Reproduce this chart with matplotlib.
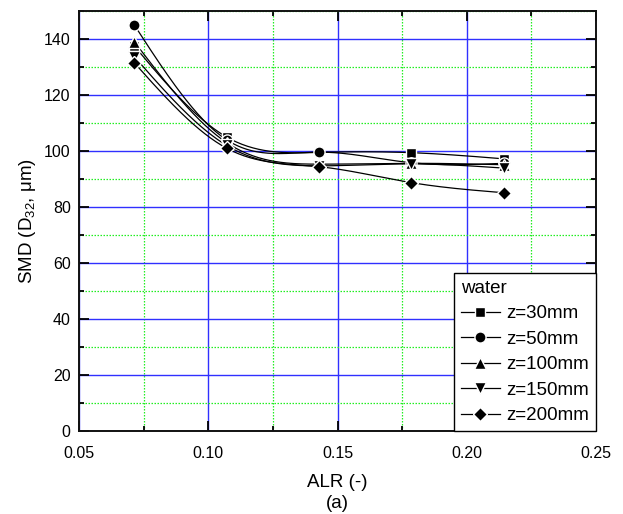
import numpy as np
import matplotlib
matplotlib.use("Agg")
import matplotlib.pyplot as plt
from matplotlib.lines import Line2D
from matplotlib.ticker import MultipleLocator

plt.rcParams['font.family'] = ['Liberation Sans', 'DejaVu Sans']
plt.rcParams['mathtext.fontset'] = 'custom'
plt.rcParams['mathtext.rm'] = 'Liberation Sans'
plt.rcParams['mathtext.it'] = 'Liberation Sans:italic'

# ---- data ----
alr = [0.0714, 0.1071, 0.1429, 0.1786, 0.2143]
series_labels = ["z=30mm", "z=50mm", "z=100mm", "z=150mm", "z=200mm"]
smd_z30 = [137.5, 105.0, 99.5, 99.4, 97.2]
smd_z50 = [145.0, 104.0, 99.6, 95.8, 95.6]
smd_z100 = [139.0, 103.0, 95.3, 95.6, 95.1]
smd_z150 = [133.7, 102.0, 94.7, 95.4, 93.9]
smd_z200 = [131.5, 101.0, 94.4, 88.7, 85.1]
legend_title = "water"
x_label = "ALR (-)\n(a)"
y_label = "SMD (D$_{32}$, \u03bcm)"

markers = ['s', 'o', '^', 'v', 'D']
msizes = [7.5, 8.0, 8.5, 8.5, 7.5]
all_series = [smd_z30, smd_z50, smd_z100, smd_z150, smd_z200]


def natural_spline(x, y, n=200):
    x = np.asarray(x, float)
    y = np.asarray(y, float)
    m = len(x)
    h = np.diff(x)
    A = np.zeros((m, m))
    b = np.zeros(m)
    A[0, 0] = 1
    A[-1, -1] = 1
    for i in range(1, m - 1):
        A[i, i - 1] = h[i - 1]
        A[i, i] = 2 * (h[i - 1] + h[i])
        A[i, i + 1] = h[i]
        b[i] = 6 * ((y[i + 1] - y[i]) / h[i] - (y[i] - y[i - 1]) / h[i - 1])
    M = np.linalg.solve(A, b)
    xs = np.linspace(x[0], x[-1], n)
    idx = np.clip(np.searchsorted(x, xs) - 1, 0, m - 2)
    x0, x1 = x[idx], x[idx + 1]
    hh = x1 - x0
    t1 = x1 - xs
    t0 = xs - x0
    ys = (M[idx] * t1 ** 3 / (6 * hh) + M[idx + 1] * t0 ** 3 / (6 * hh)
          + (y[idx] / hh - M[idx] * hh / 6) * t1
          + (y[idx + 1] / hh - M[idx + 1] * hh / 6) * t0)
    return xs, ys


fig = plt.figure(figsize=(6.23, 5.14), dpi=100)
ax = fig.add_axes([79 / 623, 1 - 431 / 514, (596 - 79) / 623, (431 - 11) / 514])

ax.set_xlim(0.05, 0.25)
ax.set_ylim(0, 150)
ax.xaxis.set_major_locator(MultipleLocator(0.05))
ax.xaxis.set_minor_locator(MultipleLocator(0.025))
ax.yaxis.set_major_locator(MultipleLocator(20))
ax.yaxis.set_minor_locator(MultipleLocator(10))
ax.set_xticks([0.05, 0.10, 0.15, 0.20, 0.25])
ax.set_xticklabels(["0.05", "0.10", "0.15", "0.20", "0.25"])

ax.grid(which='major', color='#3030ff', linewidth=1.0, linestyle='-', zorder=0)
ax.grid(which='minor', color='#22ee22', linewidth=0.9, linestyle=(0, (1.2, 1.2)), zorder=0)
ax.set_axisbelow(True)

for ys in all_series:
    sx, sy = natural_spline(alr, ys)
    ax.plot(sx, sy, color='black', linewidth=0.9, zorder=2)
for ys, mk, ms in zip(all_series, markers, msizes):
    ax.plot(alr, ys, linestyle='none', marker=mk, markersize=ms, color='black',
            markeredgecolor='white', markeredgewidth=1.0, zorder=3)

ax.tick_params(which='both', direction='in', top=True, right=True, labelsize=11.5,
               width=1.3, color='black')
ax.tick_params(which='major', length=7, pad=6)
ax.tick_params(which='minor', length=3.5)
ax.tick_params(axis='x', which='major', pad=11)
for sp in ax.spines.values():
    sp.set_linewidth(1.4)
    sp.set_color('#111111')

ax.set_xlabel(x_label, fontsize=13.5, labelpad=9, linespacing=1.3)
ax.set_ylabel(y_label, fontsize=13.5, labelpad=4)

handles = [Line2D([], [], color='black', linewidth=0.9, marker=mk, markersize=ms,
                  markeredgecolor='white', markeredgewidth=1.0)
           for mk, ms in zip(markers, msizes)]
leg = ax.legend(handles, series_labels, title=legend_title, loc='lower right',
                borderaxespad=0, fontsize=13.5, title_fontsize=13.5, frameon=True,
                fancybox=False, edgecolor='black', framealpha=1, handlelength=2.1,
                handletextpad=0.35, labelspacing=0.45, borderpad=0.35,
                alignment='left')
leg.get_frame().set_linewidth(1.0)

fig.savefig("out.png", dpi=100)
